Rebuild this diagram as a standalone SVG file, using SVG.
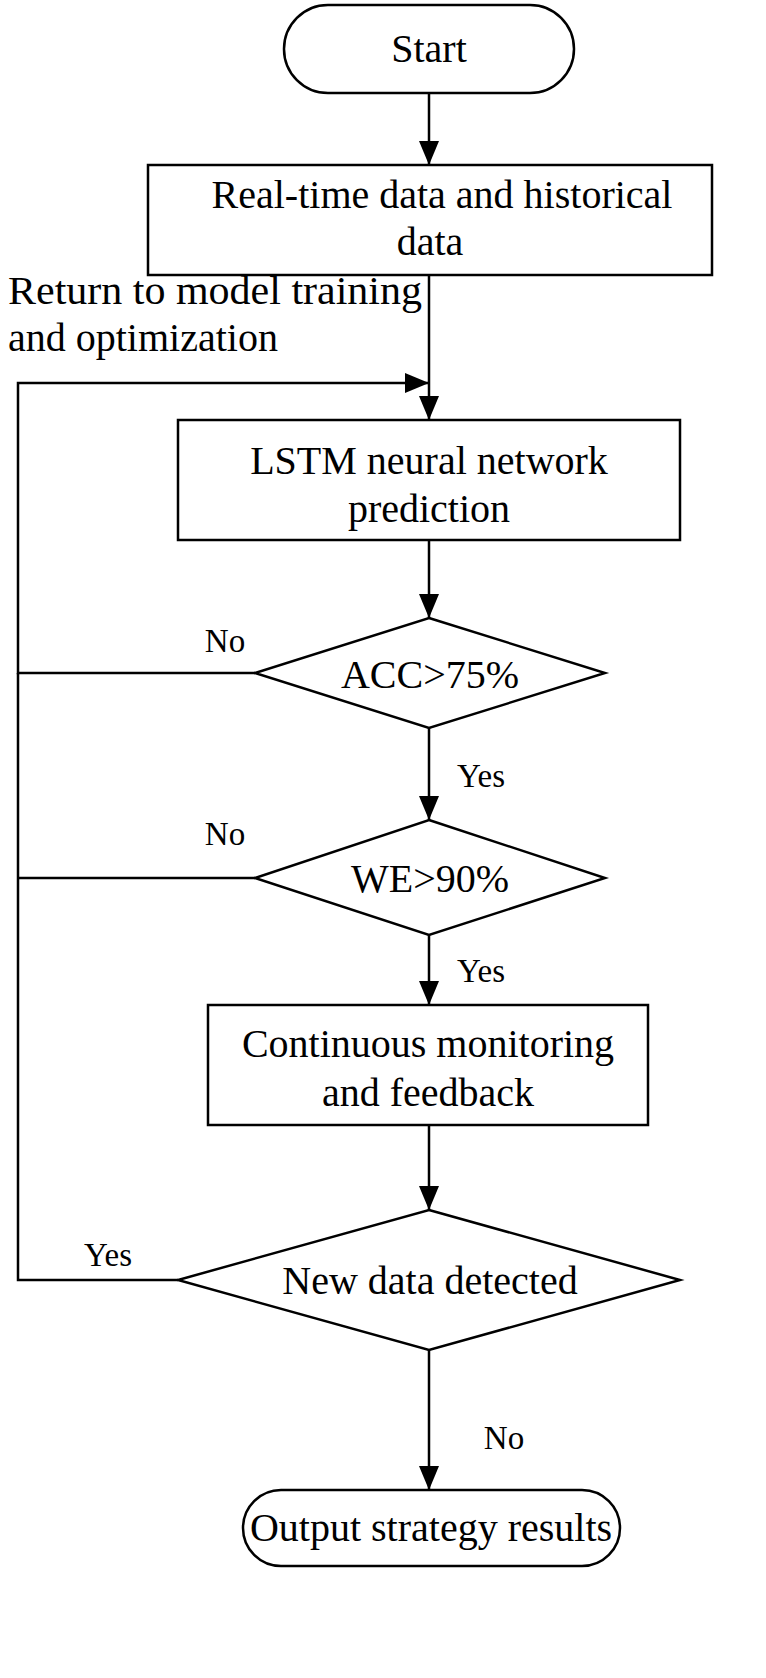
<svg xmlns="http://www.w3.org/2000/svg" width="766" height="1678" viewBox="0 0 766 1678">
<style>
.s{fill:#fff;stroke:#000;stroke-width:2.5}
.l{fill:none;stroke:#000;stroke-width:2.5}
text{font-family:"Liberation Serif","Times New Roman",serif;font-size:40px;fill:#000;text-anchor:middle}
.lb{text-anchor:start}
.y{font-size:33px}
</style>
<defs><marker id="b" markerWidth="24" markerHeight="20" refX="24" refY="10" orient="auto" markerUnits="userSpaceOnUse"><path d="M0,0L24,10L0,20z" fill="#000"/></marker></defs>
<rect width="766" height="1678" fill="#fff"/>
<g id="connectors">
<line class="l" x1="429" y1="93" x2="429" y2="165" marker-end="url(#b)"/>
<line class="l" x1="429" y1="275" x2="429" y2="420" marker-end="url(#b)"/>
<polyline class="l" points="255,673 18,673 18,383 429,383" marker-end="url(#b)"/>
<polyline class="l" points="255,878 18,878"/>
<polyline class="l" points="178,1280 18,1280 18,673"/>
<line class="l" x1="429" y1="540" x2="429" y2="618" marker-end="url(#b)"/>
<line class="l" x1="429" y1="728" x2="429" y2="820" marker-end="url(#b)"/>
<line class="l" x1="429" y1="935" x2="429" y2="1005" marker-end="url(#b)"/>
<line class="l" x1="429" y1="1125" x2="429" y2="1210" marker-end="url(#b)"/>
<line class="l" x1="429" y1="1350" x2="429" y2="1490" marker-end="url(#b)"/>
<text class="lb" x="8" y="304" textLength="414" lengthAdjust="spacingAndGlyphs">Return to model training</text>
<text class="lb" x="8" y="351">and optimization</text>
<text class="y" x="225" y="652">No</text>
<text class="y" x="225" y="845">No</text>
<text class="y" x="481" y="787">Yes</text>
<text class="y" x="481" y="982">Yes</text>
<text class="y" x="108" y="1266">Yes</text>
<text class="y" x="504" y="1449">No</text>
</g>
<g id="start"><rect class="s" x="284" y="5" width="290" height="88" rx="44"/><text x="429" y="62">Start</text></g>
<g id="data"><rect class="s" x="148" y="165" width="564" height="110"/><text x="442" y="208">Real-time data and historical</text><text x="430" y="255">data</text></g>
<g id="lstm"><rect class="s" x="178" y="420" width="502" height="120"/><text x="429" y="474">LSTM neural network</text><text x="429" y="522">prediction</text></g>
<g id="acc"><polygon class="s" points="429,618 605,673 429,728 255,673"/><text x="430" y="688" font-size="29">ACC&gt;75%</text></g>
<g id="we"><polygon class="s" points="429,820 605,878 429,935 255,878"/><text x="430" y="892" font-size="29">WE&gt;90%</text></g>
<g id="monitor"><rect class="s" x="208" y="1005" width="440" height="120"/><text x="428" y="1057">Continuous monitoring</text><text x="428" y="1106">and feedback</text></g>
<g id="newdata"><polygon class="s" points="429,1210 680,1280 429,1350 178,1280"/><text x="430" y="1294">New data detected</text></g>
<g id="end"><rect class="s" x="243" y="1490" width="377" height="76" rx="38"/><text x="431" y="1541">Output strategy results</text></g>
</svg>
